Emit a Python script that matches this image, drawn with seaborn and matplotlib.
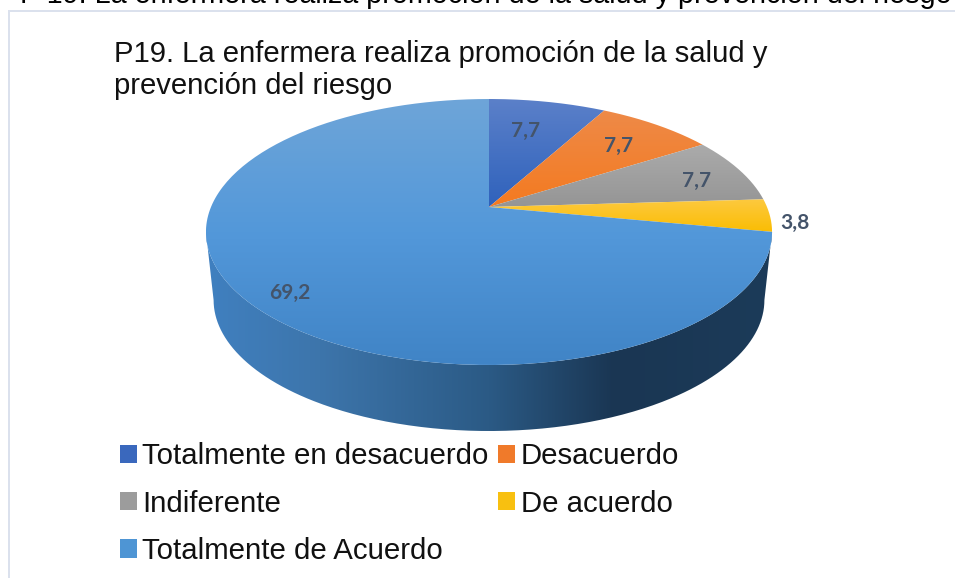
import numpy as np
import matplotlib
matplotlib.use("Agg")
import matplotlib.pyplot as plt
from matplotlib.colors import LinearSegmentedColormap
from matplotlib.patches import Patch, PathPatch, Rectangle
from matplotlib.path import Path
import seaborn as sns

title = "P19. La enfermera realiza promoción de la salud y\nprevención del riesgo"
cut_title = "P 19. La enfermera realiza promoción de la salud y prevención del riesgo"
categories = ["Totalmente en desacuerdo", "Desacuerdo", "Indiferente", "De acuerdo", "Totalmente de Acuerdo"]
values = [7.7, 7.7, 7.7, 3.8, 69.2]
value_labels = ["7,7", "7,7", "7,7", "3,8", "69,2"]

W, H = 955, 578
CX, CY = 489, 207      # hub of the pie in pixels
SX, SY = 278, 128.3    # pixels per unit
K = 0.188              # perspective strength

slice_gradients = [
    ["#5b80c9", "#2f62bc"],
    ["#ee8a48", "#f47a20"],
    ["#ababab", "#959595"],
    ["#fdc93f", "#fabd03"],
    ["#6ea5d8", "#5398da", "#4084c6"],
]
legend_colors = ["#3a68bd", "#f07a2a", "#9c9c9c", "#f8c010", "#4e95d4"]

sns.set_theme(style="white")
plt.rcParams["font.family"] = ["Liberation Sans", "DejaVu Sans"]


def tilt(u, v):
    # perspective view of the flat pie
    w = 1 + K * v
    return u / w, v / w


def px(x, y):
    return x / W, 1 - y / H


fig = plt.figure(figsize=(W / 100, H / 100), dpi=100, facecolor="white")
ax = fig.add_axes([0, 0, 1, 1])

wedges, _ = ax.pie(values, startangle=90, counterclock=False, radius=1)
for w in wedges:
    w.set_visible(False)
ax.set_aspect("auto")
ax.axis("off")

# side wall: front arc of the top face joined to a slightly narrower, lower arc
# the arc runs between the two widest points of the tilted circle
t = np.linspace(-np.arcsin(K), -np.pi + np.arcsin(K), 300)
fx, fy = tilt(np.cos(t), np.sin(t))
ell_mid = (232 - CY) / -SY
bx = fx[::-1] * 0.973
by = (fy[::-1] - ell_mid) * 0.985 + ell_mid - (300 - 232) / SY
wall = PathPatch(Path(np.vstack([np.column_stack([fx, fy]), np.column_stack([bx, by]), [[fx[0], fy[0]]]])),
                 fc="none", ec="none")
ax.add_patch(wall)
wall_cmap = LinearSegmentedColormap.from_list(
    "wall", [(0, "#4080c0"), (0.2, "#3d75ab"), (0.5, "#2b5a85"), (0.72, "#1a3653"), (1, "#1c3b59")])
im = ax.imshow(np.linspace(0, 1, 256)[None, :], cmap=wall_cmap, aspect="auto", zorder=1,
               extent=[fx.min(), fx.max(), -3, 3])
im.set_clip_path(wall)

# top face, each slice with its own vertical gradient
for i, w in enumerate(wedges):
    a = np.radians(np.linspace(w.theta1, w.theta2, 200))
    sx, sy = tilt(np.cos(a), np.sin(a))
    sx = np.r_[0, sx, 0]
    sy = np.r_[0, sy, 0]
    face = PathPatch(Path(np.column_stack([sx, sy])), fc="none", ec="none")
    ax.add_patch(face)
    cmap = LinearSegmentedColormap.from_list("g", slice_gradients[i])
    im = ax.imshow(np.linspace(0, 1, 256)[:, None], cmap=cmap, aspect="auto", zorder=2,
                   extent=[sx.min(), sx.max(), sy.min(), sy.max()])
    im.set_clip_path(face)

ax.set_xlim(-CX / SX, (W - CX) / SX)
ax.set_ylim(-(H - CY) / SY, CY / SY)

# value labels
label_px = [(526, 131), (619, 146), (697, 181), (795, 223), (290, 293)]
for s, (x, y) in zip(value_labels, label_px):
    lx, ly = px(x, y)
    fig.text(lx, ly, s, color="#44546a", fontsize=15, fontweight="bold", family="Lato",
             ha="center", va="center", zorder=6)

# chart frame and the caption cut by the top edge
fig.add_artist(Rectangle((8 / W, 0), 2 / W, 1 - 10 / H, transform=fig.transFigure, fc="#dbe1ed", ec="none", zorder=0))
fig.add_artist(Rectangle(px(8, 12), 1, 2 / H, transform=fig.transFigure, fc="#dbe1ed", ec="none", zorder=0))
lx, ly = px(952, 3)
fig.text(lx, ly, cut_title, fontsize=20.7, color="black", ha="right", va="baseline")

lx, ly = px(114, 70)
fig.text(lx, ly, title, fontsize=21.1, color="#111111", ha="left", va="center", linespacing=1.19)

# matplotlib fills columns first, so this order reads row by row like the original
order = [0, 2, 4, 1, 3]
handles = [Patch(fc=legend_colors[i], ec="none", label=categories[i]) for i in order]
fig.legend(handles=handles, ncols=2, loc="upper left", bbox_to_anchor=px(93, 416), frameon=False,
           fontsize=21.2, handlelength=0.58, handleheight=0.58, handletextpad=0.2,
           columnspacing=0.3, labelspacing=0.65, borderpad=0.4, labelcolor="#111111")

fig.savefig("out.png", dpi=100)
